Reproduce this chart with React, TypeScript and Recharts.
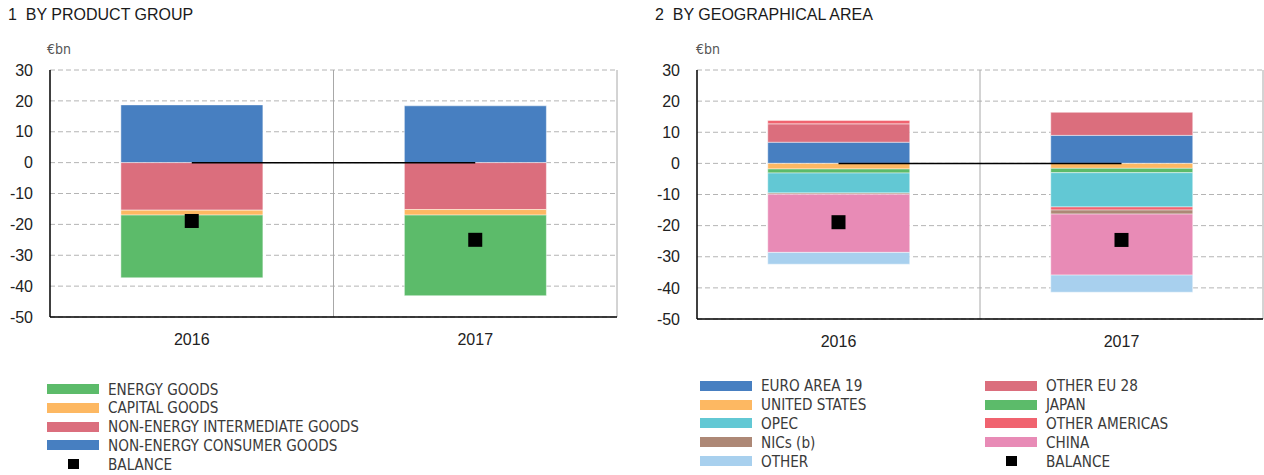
import React from 'react';
import { ComposedChart, Bar, Line, XAxis, YAxis, CartesianGrid, ReferenceLine } from 'recharts';

// ---- data ----
const years = ['2016', '2017'];
const yTicks = [-50, -40, -30, -20, -10, 0, 10, 20, 30];

// chart 1: by product group
const consumerGoods = [18.7, 18.4];
const intermediateGoods = [-15.4, -15.2];
const capitalGoods = [-1.6, -1.8];
const energyGoods = [-20.3, -26.1];
const productBalance = [-18.9, -25.0];

// chart 2: by geographical area
const euroArea = [6.8, 9.0];
const otherEU = [5.9, 7.4];
const unitedStates = [-1.8, -1.6];
const japan = [-1.3, -1.4];
const opec = [-6.4, -11.0];
const otherAmericas = [1.1, -1.0];
const nics = [-0.4, -1.3];
const china = [-18.7, -19.6];
const other = [-3.8, -5.5];
const areaBalance = [-18.9, -24.6];

const title1 = '1  BY PRODUCT GROUP';
const title2 = '2  BY GEOGRAPHICAL AREA';
const unitLabel = '€bn';

const productKeys = ['consumer', 'intermediate', 'capital', 'energy'];
const productNames = ['NON-ENERGY CONSUMER GOODS', 'NON-ENERGY INTERMEDIATE GOODS', 'CAPITAL GOODS', 'ENERGY GOODS'];
const productLegendOrder = ['energy', 'capital', 'intermediate', 'consumer'];

const areaKeys = ['euro', 'otherEU', 'us', 'japan', 'opec', 'otherAm', 'nics', 'china', 'other'];
const areaNames = ['EURO AREA 19', 'OTHER EU 28', 'UNITED STATES', 'JAPAN', 'OPEC', 'OTHER AMERICAS', 'NICs (b)', 'CHINA', 'OTHER'];
const balanceName = 'BALANCE';

// ---- styles ----
const colors: Record<string, string> = {
  consumer: '#477FC1',
  intermediate: '#DB6E7D',
  capital: '#FDB862',
  energy: '#5CBB6A',
  euro: '#477FC1',
  otherEU: '#DB6E7D',
  us: '#FDB862',
  japan: '#5CBB6A',
  opec: '#62C8D4',
  otherAm: '#F0636F',
  nics: '#AD8876',
  china: '#E88BB6',
  other: '#A8D0EE',
};

const productData = years.map((y, i) => ({
  year: y,
  consumer: consumerGoods[i],
  intermediate: intermediateGoods[i],
  capital: capitalGoods[i],
  energy: energyGoods[i],
  balance: productBalance[i],
}));

const areaData = years.map((y, i) => ({
  year: y,
  euro: euroArea[i],
  otherEU: otherEU[i],
  us: unitedStates[i],
  japan: japan[i],
  opec: opec[i],
  otherAm: otherAmericas[i],
  nics: nics[i],
  china: china[i],
  other: other[i],
  balance: areaBalance[i],
}));

const FONT = '"Liberation Sans", Arial, Helvetica, sans-serif';
const NARROW = '"Liberation Sans Narrow", "DejaVu Sans Condensed", "Liberation Sans", Arial, sans-serif';

const Square = (props: any) => {
  const { cx, cy } = props;
  if (cx == null || cy == null) return null;
  return <rect x={cx - 7} y={cy - 7} width={14} height={14} fill="#000" />;
};

const vGen = ({ offset }: any) => [offset.left + offset.width / 2, offset.left + offset.width];

function StackChart(props: {
  data: any[];
  keys: string[];
  width: number;
  height: number;
  left: number;
  yWidth: number;
  marginRight: number;
  marginBottom: number;
}) {
  const { data, keys, width, height, left, yWidth, marginRight, marginBottom } = props;
  return (
    <div style={{ position: 'absolute', left, top: 0 }}>
      <ComposedChart
        width={width}
        height={height}
        data={data}
        stackOffset="sign"
        barCategoryGap="25%"
        margin={{ top: 70, right: marginRight, left: 0, bottom: marginBottom }}
      >
        <CartesianGrid vertical={false} stroke="#b4b4b4" strokeDasharray="5 3" />
        <CartesianGrid horizontal={false} stroke="#a8a8a8" verticalCoordinatesGenerator={vGen} />
        <XAxis
          dataKey="year"
          axisLine={{ stroke: '#000', strokeWidth: 1.5 }}
          tickLine={false}
          tickSize={5}
          tickMargin={12}
          height={30}
          tick={{ fontSize: 16, fill: '#222', fontFamily: FONT }}
        />
        <YAxis
          domain={[-50, 30]}
          ticks={yTicks}
          interval={0}
          width={yWidth}
          axisLine={{ stroke: '#000', strokeWidth: 1.5 }}
          tickLine={false}
          tickSize={6}
          tickMargin={11}
          tick={{ fontSize: 16, fill: '#222', fontFamily: FONT }}
        />
        {keys.map((k) => (
          <Bar
            key={k}
            dataKey={k}
            stackId="s"
            fill={colors[k]}
            stroke="rgba(255,255,255,0.45)"
            strokeWidth={1}
            isAnimationActive={false}
          />
        ))}
        <ReferenceLine
          segment={[{ x: years[0], y: 0 }, { x: years[1], y: 0 }]}
          stroke="#000"
          strokeWidth={1.5}
        />
        <Line
          dataKey="balance"
          stroke="none"
          dot={<Square />}
          activeDot={false}
          isAnimationActive={false}
        />
      </ComposedChart>
    </div>
  );
}

const Swatch = ({ color }: { color: string }) => (
  <div style={{ width: 52, height: 10, background: color }} />
);

const BalanceSwatch = () => (
  <div style={{ width: 52, height: 10, display: 'flex', justifyContent: 'center' }}>
    <div style={{ width: 11, height: 10, background: '#000' }} />
  </div>
);

const LegendRow = ({ left, top, color, label, balance }: any) => (
  <div
    style={{
      position: 'absolute',
      left,
      top,
      height: 19,
      display: 'flex',
      alignItems: 'center',
    }}
  >
    {balance ? <BalanceSwatch /> : <Swatch color={color} />}
    <div
      style={{
        marginLeft: 9,
        fontFamily: NARROW,
        fontSize: 16,
        color: '#3a3a3a',
        lineHeight: '19px',
        whiteSpace: 'nowrap',
        transform: 'scaleX(0.945)',
        transformOrigin: 'left center',
      }}
    >
      {label}
    </div>
  </div>
);

export default function App() {
  const rowH = 18.8;
  const leftLegendTop = 379.5;
  const rightLegendTop = 376.3;
  const areaCol1 = ['euro', 'us', 'opec', 'nics', 'other'];
  const areaCol2 = ['otherEU', 'japan', 'otherAm', 'china'];
  const nameOf = (k: string) => areaNames[areaKeys.indexOf(k)];
  const titleStyle: React.CSSProperties = {
    position: 'absolute',
    top: 6,
    fontSize: 16,
    color: '#1a1a1a',
    whiteSpace: 'nowrap',
  };
  return (
    <div
      style={{
        position: 'absolute',
        left: 0,
        top: 0,
        width: 1264,
        height: 475,
        background: '#fff',
        fontFamily: FONT,
        overflow: 'hidden',
      }}
    >
      <div style={{ ...titleStyle, left: 8 }}>{title1.replace('  ', '\u00a0\u00a0')}</div>
      <div style={{ ...titleStyle, left: 655 }}>{title2.replace('  ', '\u00a0\u00a0')}</div>
      <div style={{ position: 'absolute', left: 47, top: 41, fontSize: 14, color: '#555', fontFamily: NARROW }}>
        {unitLabel}
      </div>
      <div style={{ position: 'absolute', left: 696, top: 41, fontSize: 14, color: '#555', fontFamily: NARROW }}>
        {unitLabel}
      </div>

      <StackChart
        data={productData}
        keys={productKeys}
        width={640}
        height={360}
        left={0}
        yWidth={50}
        marginRight={23}
        marginBottom={13}
      />
      <StackChart
        data={areaData}
        keys={areaKeys}
        width={624}
        height={360}
        left={640}
        yWidth={57}
        marginRight={1}
        marginBottom={11}
      />

      {productLegendOrder.map((k, i) => (
        <LegendRow
          key={k}
          left={47}
          top={leftLegendTop + i * rowH}
          color={colors[k]}
          label={productNames[productKeys.indexOf(k)]}
        />
      ))}
      <LegendRow left={47} top={leftLegendTop + 4 * rowH} balance label={balanceName} />

      {areaCol1.map((k, i) => (
        <LegendRow key={k} left={700} top={rightLegendTop + i * rowH} color={colors[k]} label={nameOf(k)} />
      ))}
      {areaCol2.map((k, i) => (
        <LegendRow key={k} left={985} top={rightLegendTop + i * rowH} color={colors[k]} label={nameOf(k)} />
      ))}
      <LegendRow left={985} top={rightLegendTop + 4 * rowH} balance label={balanceName} />
    </div>
  );
}
